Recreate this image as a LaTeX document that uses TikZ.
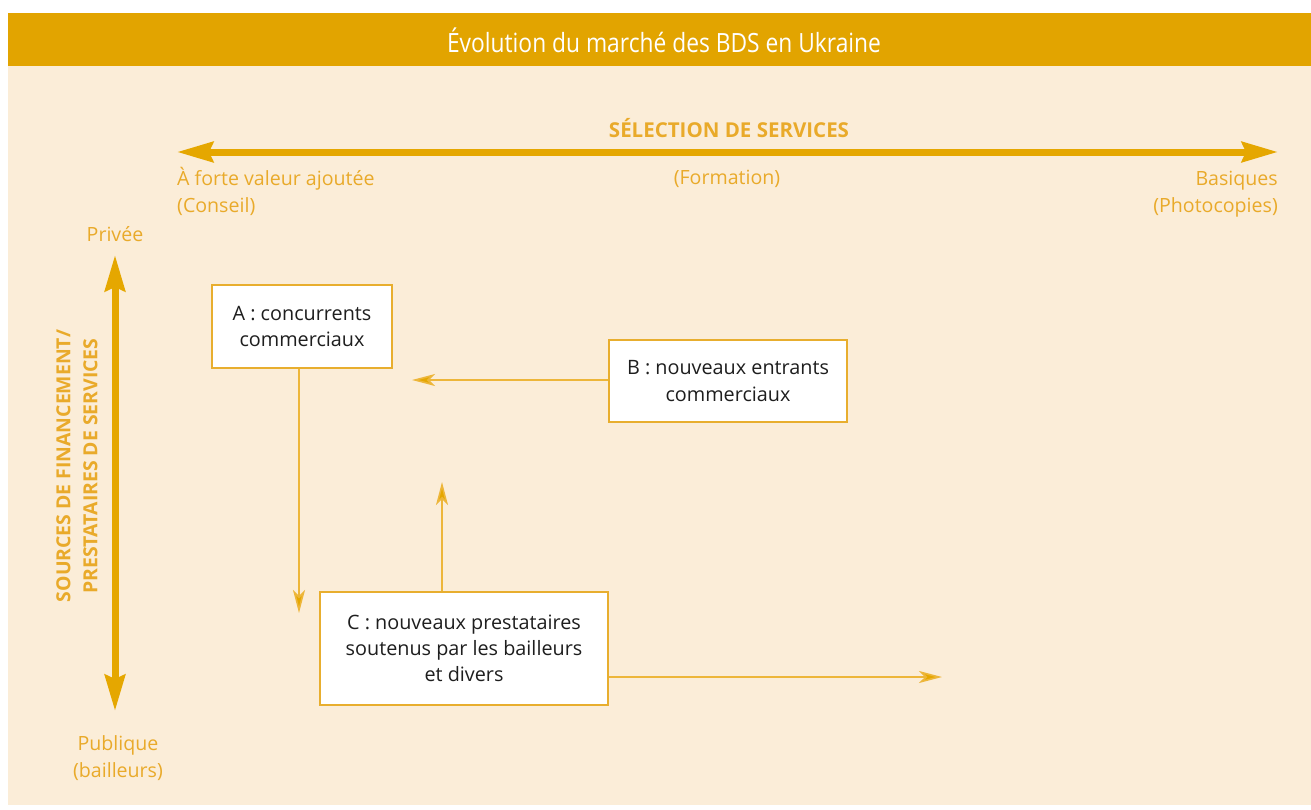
\documentclass[tikz,border=0pt]{standalone}
\usepackage{fontspec}
\setmainfont{Open Sans}
\newfontfamily\headfont[FakeStretch=0.86]{Open Sans}
\usetikzlibrary{arrows.meta}
\definecolor{gold}{HTML}{E2A400}
\definecolor{bgcream}{HTML}{FBEDD8}
\definecolor{arrowgold}{HTML}{E5A700}
\definecolor{thingold}{HTML}{EDB63A}
\definecolor{labelgold}{HTML}{E9AA2A}
\definecolor{boxline}{HTML}{E8AE2E}
\definecolor{boxtext}{HTML}{1E1E1E}
\tikzset{
  bigarrow/.style={line width=7pt, draw=arrowgold,
    {Stealth[length=36pt,width=20pt,inset=4pt]}-{Stealth[length=36pt,width=20pt,inset=4pt]}},
  thinarrow/.style={line width=1.6pt, draw=thingold,
    -{Stealth[length=23pt,width=12pt,inset=6pt,fill=arrowgold]}},
  mybox/.style={draw=boxline, line width=1.3pt, fill=white, text=boxtext,
    align=center, inner sep=0pt, font=\fontsize{19.8}{26.3}\selectfont},
  lbl/.style={text=labelgold, inner sep=0pt, font=\fontsize{19.6}{27}\selectfont},
}
\begin{document}
\begin{tikzpicture}[x=1pt,y=-1pt]
\useasboundingbox (0,0) rectangle (1311,809);
\fill[white] (0,0) rectangle (1311,809);
\fill[bgcream] (8,66) rectangle (1311,805);
\fill[gold] (8,13) rectangle (1311,66);
\node[text=white, font=\headfont\fontsize{26.5}{30}\selectfont] (title) at (664,40) {Évolution du marché des BDS en Ukraine};

% horizontal axis
\node[lbl, font=\bfseries\fontsize{20.5}{24}\selectfont] (sel) at (729,128) {SÉLECTION DE SERVICES};
\coordinate (hl) at (177,152);
\coordinate (hr) at (1278,152);
\draw[bigarrow] (hl) -- (hr);
\node[lbl, anchor=west, align=left] (fort) at (177,191.5) {À forte valeur ajoutée\\(Conseil)};
\node[lbl] (form) at (727,179) {(Formation)};
\node[lbl, anchor=east, align=right] (bas) at (1278,194) {Basiques\\(Photocopies)};

% vertical axis
\node[lbl] (priv) at (115,234) {Privée};
\coordinate (vt) at (115,255);
\coordinate (vb) at (115,711);
\draw[bigarrow] (vt) -- (vb);
\node[lbl, align=center] (publ) at (118,758) {Publique\\(bailleurs)};
\node[lbl, rotate=90, align=center, font=\bfseries\fontsize{19.4}{27}\selectfont] (src) at (77,466) {SOURCES DE FINANCEMENT/\\PRESTATAIRES DE SERVICES};

% boxes
\node[mybox, minimum width=180pt, minimum height=83pt] (A) at (302,326.5) {A : concurrents\\commerciaux};
\node[mybox, minimum width=238pt, minimum height=82pt] (B) at (728,381) {B : nouveaux entrants\\commerciaux};
\node[mybox, minimum width=288pt, minimum height=113pt] (C) at (464,648.5) {C : nouveaux prestataires\\soutenus par les bailleurs\\et divers};

% connectors
\coordinate (Btip) at (412,380);
\draw[thinarrow] (B.west |- Btip) -- (Btip);
\coordinate (Adown) at (299,613);
\draw[thinarrow] (A.south -| Adown) -- (Adown);
\coordinate (Cup) at (442,482);
\draw[thinarrow] (C.north -| Cup) -- (Cup);
\coordinate (Cright) at (942,677);
\draw[thinarrow] (C.east |- Cright) -- (Cright);
\end{tikzpicture}
\end{document}
